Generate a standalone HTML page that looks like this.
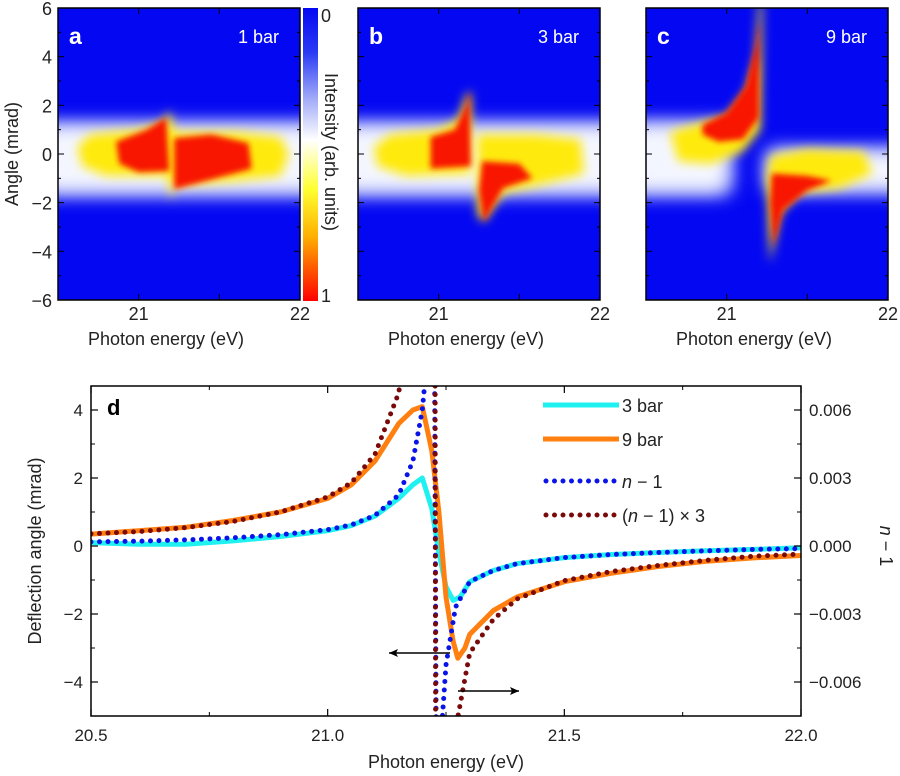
<!DOCTYPE html>
<html><head><meta charset="utf-8"><style>
html,body{margin:0;background:#fff;overflow:hidden;width:900px;height:776px;}
svg{display:block;overflow:hidden;font-family:"Liberation Sans",Arial,sans-serif;}
</style></head><body>
<svg id="fig" width="900" height="776" viewBox="0 0 900 776">
<defs>
 <filter id="b8" x="-50%" y="-50%" width="200%" height="200%"><feGaussianBlur stdDeviation="8"/></filter>
 <filter id="b6" x="-50%" y="-50%" width="200%" height="200%"><feGaussianBlur stdDeviation="5"/></filter>
 <filter id="b4" x="-50%" y="-50%" width="200%" height="200%"><feGaussianBlur stdDeviation="3"/></filter>
 <filter id="b2" x="-50%" y="-50%" width="200%" height="200%"><feGaussianBlur stdDeviation="1.6"/></filter>
 <linearGradient id="cbar" x1="0" y1="0" x2="0" y2="1">
  <stop offset="0" stop-color="#0408f2"/><stop offset="0.15" stop-color="#2a3af4"/>
  <stop offset="0.3" stop-color="#9aa4f8"/><stop offset="0.45" stop-color="#ffffff"/>
  <stop offset="0.62" stop-color="#ffff30"/><stop offset="0.78" stop-color="#ffb000"/>
  <stop offset="1" stop-color="#ff0000"/>
 </linearGradient>
 <clipPath id="cpa"><rect x="58" y="8" width="242" height="292"/></clipPath>
 <clipPath id="cpb"><rect x="358" y="8" width="242" height="292"/></clipPath>
 <clipPath id="cpc"><rect x="646" y="8" width="242" height="292"/></clipPath>
 <clipPath id="cpd"><rect x="91" y="386" width="710" height="330"/></clipPath>
</defs>
<g id="top"></g>
<g id="bottom"></g>
</svg>
<script>
// ---- panel d data ----
const energyCyan=[20.5,20.6,20.7,20.8,20.9,21.0,21.05,21.1,21.15,21.18,21.2,21.22,21.235,21.25,21.265,21.28,21.3,21.35,21.4,21.5,21.6,21.7,21.8,21.9,22.0];
const bar3=[0.1,0.05,0.05,0.15,0.28,0.45,0.6,0.88,1.4,1.8,2.0,1.1,-0.2,-1.2,-1.6,-1.5,-1.05,-0.72,-0.52,-0.34,-0.25,-0.19,-0.14,-0.1,-0.05];
const energyOrange=[20.5,20.6,20.7,20.8,20.9,21.0,21.05,21.1,21.15,21.18,21.2,21.22,21.235,21.25,21.265,21.275,21.29,21.3,21.35,21.4,21.5,21.6,21.7,21.8,21.9,22.0];
const bar9=[0.35,0.45,0.55,0.75,1.0,1.4,1.8,2.5,3.6,4.0,4.1,2.8,1.0,-1.5,-2.8,-3.3,-3.0,-2.6,-1.9,-1.5,-1.05,-0.8,-0.6,-0.45,-0.35,-0.28];
const energyN=[20.5,20.6,20.7,20.8,20.9,21.0,21.05,21.1,21.15,21.18,21.2,21.21,21.225,21.23,21.24,21.25,21.27,21.3,21.35,21.4,21.5,21.6,21.7,21.8,21.9,22.0];
const nMinus1=[0.00018,0.00021,0.00027,0.00036,0.0005,0.00072,0.00093,0.00135,0.00225,0.00375,0.006,0.00825,0.012,-0.012,-0.00825,-0.00525,-0.0027,-0.001575,-0.00108,-0.00078,-0.00051,-0.000375,-0.000285,-0.00021,-0.00015,-0.00012];
const xTicks=[20.5,21.0,21.5,22.0];
const xTickLabels=["20.5","21.0","21.5","22.0"];
const yTicks=[4,2,0,-2,-4];
const yTickLabels=["4","2","0","\u22122","\u22124"];
const rTicks=[0.006,0.003,0,-0.003,-0.006];
const rTickLabels=["0.006","0.003","0.000","\u22120.003","\u22120.006"];

const NS="http://www.w3.org/2000/svg";
function mk(tag,attrs,parent,txt){const e=document.createElementNS(NS,tag);for(const k in attrs)e.setAttribute(k,attrs[k]);if(txt!==undefined)e.textContent=txt;parent.appendChild(e);return e;}

const X0=91,X1=801,Y0=386,Y1=716;
const xd=e=>X0+(e-20.5)/1.5*(X1-X0);
const yd=v=>546-v*34;
const yr=n=>546-n/0.0015*34;

const B=document.getElementById('bottom');
function series(xs,ys,fy,attrs,name){
  const d=xs.map((x,i)=>(i?'L':'M')+xd(x).toFixed(1)+','+fy(ys[i]).toFixed(1)).join('');
  const p=mk('path',Object.assign({d:d,fill:'none'},attrs),B);
  p.setAttribute('clip-path','url(#cpd)');
  
  
  return p;
}
series(energyCyan,bar3,yd,{stroke:'#1ff0f0','stroke-width':5,'stroke-linejoin':'round'},'series-3-bar');
series(energyOrange,bar9,yd,{stroke:'#ff8010','stroke-width':5,'stroke-linejoin':'round'},'series-9-bar');
series(energyN,nMinus1,yr,{stroke:'#0a14e8','stroke-width':5,'stroke-linecap':'round','stroke-dasharray':'0 8.5'},'series-n-minus-1');
series(energyN,nMinus1.map(v=>v*3),yr,{stroke:'#7a0a0a','stroke-width':5,'stroke-linecap':'round','stroke-dasharray':'0 8.5'},'series-n-minus-1-times-3');

const fr=mk('rect',{x:X0,y:Y0,width:X1-X0,height:Y1-Y0,fill:'none',stroke:'#000','stroke-width':1.5},B);

xTicks.forEach((t,i)=>{
  mk('line',{x1:xd(t),x2:xd(t),y1:Y1,y2:Y1-7,stroke:'#000','stroke-width':1.2},B);
  mk('line',{x1:xd(t),x2:xd(t),y1:Y0,y2:Y0+7,stroke:'#000','stroke-width':1.2},B);
  const tx=mk('text',{x:xd(t),y:741,'font-size':17,'text-anchor':'middle',fill:'#222'},B,xTickLabels[i]);
  
});
[20.75,21.25,21.75].forEach(t=>{mk('line',{x1:xd(t),x2:xd(t),y1:Y1,y2:Y1-4,stroke:'#000'},B);mk('line',{x1:xd(t),x2:xd(t),y1:Y0,y2:Y0+4,stroke:'#000'},B);});
yTicks.forEach((t,i)=>{
  mk('line',{x1:X0,x2:X0+7,y1:yd(t),y2:yd(t),stroke:'#000','stroke-width':1.2},B);
  const tx=mk('text',{x:X0-8,y:yd(t)+6,'font-size':17,'text-anchor':'end',fill:'#222'},B,yTickLabels[i]);
  
});
[3,1,-1,-3].forEach(t=>mk('line',{x1:X0,x2:X0+4,y1:yd(t),y2:yd(t),stroke:'#000'},B));
rTicks.forEach((t,i)=>{
  mk('line',{x1:X1,x2:X1-7,y1:yr(t),y2:yr(t),stroke:'#000','stroke-width':1.2},B);
  const tx=mk('text',{x:X1+8,y:yr(t)+6,'font-size':17,fill:'#222'},B,rTickLabels[i]);
  
});
[0.0045,0.0015,-0.0015,-0.0045].forEach(t=>mk('line',{x1:X1,x2:X1-4,y1:yr(t),y2:yr(t),stroke:'#000'},B));
let t;
t=mk('text',{x:446,y:768,'font-size':18,'text-anchor':'middle',fill:'#222'},B,'Photon energy (eV)');

t=mk('text',{x:0,y:0,'font-size':18,'text-anchor':'middle',fill:'#222',transform:'translate(41,551) rotate(-90)'},B,'Deflection angle (mrad)');

t=mk('text',{x:0,y:0,'font-size':18,'text-anchor':'middle',fill:'#222',transform:'translate(880,546) rotate(90)'},B);
t.innerHTML='<tspan font-style="italic">n</tspan> \u2212 1';

t=mk('text',{x:107,y:415,'font-size':22,'font-weight':'bold',fill:'#000'},B,'d');

const leg=[['#1ff0f0','solid','3 bar',405],['#ff8010','solid','9 bar',439],['#0a14e8','dot','n',481],['#7a0a0a','dot','(',515]];
leg.forEach(l=>{
  const g=mk('g',{},B);
  if(l[1]==='solid')mk('line',{x1:543,x2:619,y1:l[3],y2:l[3],stroke:l[0],'stroke-width':5},g);
  else mk('line',{x1:546,x2:619,y1:l[3],y2:l[3],stroke:l[0],'stroke-width':5,'stroke-linecap':'round','stroke-dasharray':'0 8.5'},g);
  const tx=mk('text',{x:622,y:l[3]+7,'font-size':18,fill:'#222'},g);
  if(l[2]==='n')tx.innerHTML='<tspan font-style="italic">n</tspan> \u2212 1';
  else if(l[2]==='(')tx.innerHTML='(<tspan font-style="italic">n</tspan> \u2212 1) \u00d7 3';
  else tx.textContent=l[2];
});
function arrow(x1,x2,y,name){const g=mk('g',{},B);
  mk('line',{x1:x1,x2:x2,y1:y,y2:y,stroke:'#000','stroke-width':1.5},g);
  const s=x2>x1?-1:1;mk('path',{d:`M${x2},${y}l${s*9},-4l${-s*2},4l${s*2},4z`,fill:'#000'},g);}
arrow(450,389,653,'arrow-left-axis');arrow(458,519,691,'arrow-right-axis');

// ---- top heatmaps ----
const T=document.getElementById('top');
const panels=[{x0:58,lab:'a',p:'1 bar',cp:'cpa'},{x0:358,lab:'b',p:'3 bar',cp:'cpb'},{x0:646,lab:'c',p:'9 bar',cp:'cpc'}];
const shapes=[
 {halos:[[20.35,1.4,22.2,-1.8]],
  yel:[[[20.62,0.3],[20.7,0.8],[21.0,1.0],[21.15,1.3],[21.19,1.8],[21.22,0.9],[21.6,0.9],[21.88,0.7],[21.93,0],[21.88,-0.9],[21.6,-1.1],[21.22,-1.3],[21.2,-1.9],[21.18,-0.9],[20.8,-0.9],[20.65,-0.5]]],
  red:[[[20.86,0.5],[21.05,1.0],[21.17,1.5],[21.19,-0.7],[21.0,-0.75],[20.88,-0.4]],[[21.22,0.65],[21.45,0.8],[21.68,0.45],[21.7,-0.6],[21.45,-1.05],[21.22,-1.45]]],
  streaks:[[21.2,4,-4]]},
 {halos:[[20.35,1.4,22.2,-1.8]],
  yel:[[[20.6,0.3],[20.7,0.8],[21.0,1.0],[21.12,1.4],[21.17,2.4],[21.2,2.6],[21.2,-0.8],[20.8,-0.9],[20.62,-0.5]],[[21.24,0.8],[21.6,0.8],[21.88,0.6],[21.9,-0.8],[21.6,-1.3],[21.4,-1.6],[21.28,-2.8],[21.24,-2.5]]],
  red:[[[20.95,0.7],[21.1,1.0],[21.17,2.0],[21.19,2.6],[21.2,-0.5],[20.95,-0.6]],[[21.27,-0.3],[21.5,-0.4],[21.58,-1.0],[21.4,-1.4],[21.28,-2.8],[21.25,-1.5]]],
  streaks:[[21.2,3.5,-1],[21.255,0,-5]]},
 {halos:[[20.35,1.45,21.05,-1.8],[21.22,0.35,22.2,-1.7]],
  yel:[[[20.65,0.9],[20.8,1.2],[21.0,1.6],[21.12,2.6],[21.18,4],[21.2,6.2],[21.22,6.2],[21.21,1],[21.1,0.1],[20.9,-0.4],[20.7,-0.3]],[[21.27,-0.1],[21.5,0.2],[21.85,0.1],[21.9,-0.8],[21.7,-1.4],[21.45,-1.6],[21.33,-2.5],[21.27,-4.5],[21.25,-1]]],
  red:[[[20.85,1.2],[21.0,1.7],[21.12,2.8],[21.18,4.5],[21.2,5.5],[21.2,1.5],[21.1,0.6],[20.95,0.5],[20.85,0.8]],[[21.28,-0.8],[21.5,-0.9],[21.65,-1.1],[21.5,-1.5],[21.35,-2.3],[21.29,-3.8],[21.27,-2]]],
  streaks:[[21.21,6.2,2],[21.265,-2,-6.2]]}
];
panels.forEach((P,k)=>{
  const xe=e=>P.x0+(e-20.5)/1.5*242, ya=a=>154-a*24.33;
  const pts=arr=>arr.map(q=>xe(q[0]).toFixed(1)+','+ya(q[1]).toFixed(1)).join(' ');
  const g=mk('g',{'clip-path':`url(#${P.cp})`},T);
  
  mk('rect',{x:P.x0,y:8,width:242,height:292,fill:'#0408f2'},g);
  const S=shapes[k];
  S.halos.forEach(h=>{
    mk('rect',{x:xe(h[0]),y:ya(h[1]),width:xe(h[2])-xe(h[0]),height:ya(h[3])-ya(h[1]),rx:14,fill:'#8c96f8',filter:'url(#b8)'},g);
    mk('rect',{x:xe(h[0])+8,y:ya(h[1])+7,width:xe(h[2])-xe(h[0])-16,height:ya(h[3])-ya(h[1])-14,rx:14,fill:'#f4f6ff',filter:'url(#b8)'},g);
  });
  S.yel.forEach(y=>mk('polygon',{points:pts(y),fill:'#ffea10',filter:'url(#b6)'},g));
  S.red.forEach(r=>mk('polygon',{points:pts(r),fill:'#f81800',filter:'url(#b4)'},g));
  S.streaks.forEach(s=>mk('line',{x1:xe(s[0]),x2:xe(s[0]),y1:ya(s[1]),y2:ya(s[2]),stroke:'#e8ecff','stroke-width':3,filter:'url(#b2)'},g));
  mk('rect',{x:P.x0,y:8,width:242,height:292,fill:'none',stroke:'#000','stroke-width':1.5},T);
  [21,21.5].forEach(e=>{mk('line',{x1:xe(e),x2:xe(e),y1:300,y2:294,stroke:'#000'},T);mk('line',{x1:xe(e),x2:xe(e),y1:8,y2:14,stroke:'#000'},T);});
  for(let a=-5;a<=5;a++){mk('line',{x1:P.x0,x2:P.x0+(a%2?3:6),y1:ya(a),y2:ya(a),stroke:'#000'},T);mk('line',{x1:P.x0+242,x2:P.x0+242-(a%2?3:6),y1:ya(a),y2:ya(a),stroke:'#000'},T);}
  let tx=mk('text',{x:xe(21),y:320,'font-size':18,'text-anchor':'middle',fill:'#222'},T,'21');
  
  tx=mk('text',{x:xe(22),y:320,'font-size':18,'text-anchor':'middle',fill:'#222'},T,'22');
  
  tx=mk('text',{x:P.x0+108,y:345,'font-size':18,'text-anchor':'middle',fill:'#222'},T,'Photon energy (eV)');
  
  tx=mk('text',{x:P.x0+11,y:44,'font-size':23,'font-weight':'bold',fill:'#fff'},T,P.lab);
  
  tx=mk('text',{x:P.x0+221,y:43,'font-size':18,'text-anchor':'end',fill:'#fff'},T,P.p);
  
  if(k===0){
    [6,4,2,0,-2,-4,-6].forEach(a=>{const s=mk('text',{x:52,y:ya(a)+7,'font-size':18,'text-anchor':'end',fill:'#222'},T,a<0?'\u2212'+(-a):String(a));
      });
    const s=mk('text',{x:0,y:0,'font-size':18,'text-anchor':'middle',fill:'#222',transform:'translate(18,154) rotate(-90)'},T,'Angle (mrad)');
    
  }
});
let cb=mk('rect',{x:303,y:8,width:15,height:293,fill:'url(#cbar)'},T);

t=mk('text',{x:321,y:22,'font-size':18,fill:'#222'},T,'0');
t=mk('text',{x:321,y:302,'font-size':18,fill:'#222'},T,'1');
t=mk('text',{x:0,y:0,'font-size':18,'text-anchor':'middle',fill:'#222',transform:'translate(325,152) rotate(90)'},T,'Intensity (arb. units)');

</script>
</body></html>
